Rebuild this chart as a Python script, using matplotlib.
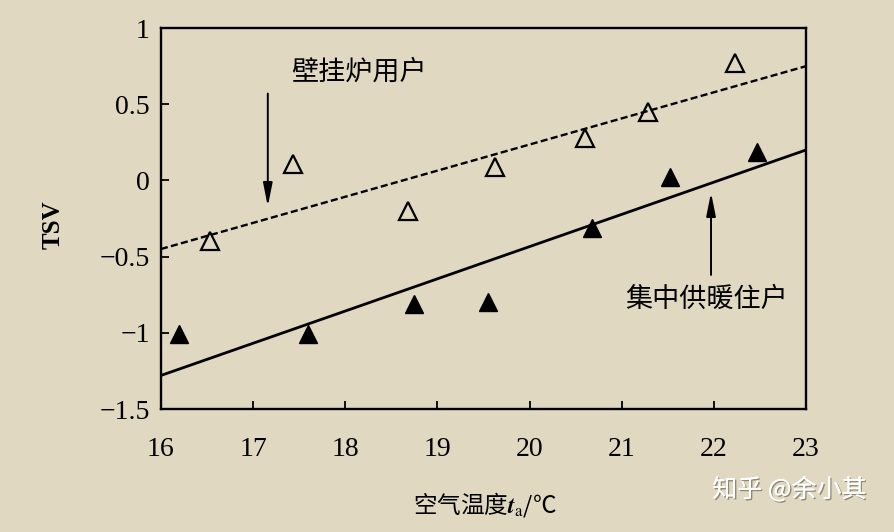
import matplotlib
matplotlib.use("Agg")
import matplotlib.pyplot as plt
import matplotlib.patheffects as pe

# data
t_open = [16.53, 17.43, 18.68, 19.63, 20.60, 21.29, 22.23]
tsv_open = [-0.40, 0.11, -0.20, 0.09, 0.28, 0.45, 0.77]
t_fill = [16.20, 17.60, 18.75, 19.55, 20.68, 21.52, 22.47]
tsv_fill = [-1.01, -1.01, -0.81, -0.80, -0.31, 0.02, 0.19]
fit_x = [16, 23]
fit_open = [-0.45, 0.75]
fit_fill = [-1.28, 0.20]
xticks = [16, 17, 18, 19, 20, 21, 22, 23]
yticks = [1, 0.5, 0, -0.5, -1, -1.5]

bg = '#e0d8c1'
plt.rcParams['mathtext.fontset'] = 'stix'
serif = ['Liberation Serif', 'DejaVu Serif']
cjk = ['Noto Sans CJK SC', 'DejaVu Sans']

fig = plt.figure(figsize=(8.94, 5.32), dpi=100, facecolor=bg)
ax = fig.add_axes([0.180, 0.2312, 0.7215, 0.716], facecolor=bg)

ax.plot(fit_x, fit_open, color='k', lw=1.7, ls=(0, (3, 1.4)))
ax.plot(fit_x, fit_fill, color='k', lw=2.0)
ax.plot(t_open, tsv_open, ls='none', marker='^', ms=13, mfc='none', mec='k', mew=1.6)
ax.plot(t_fill, tsv_fill, ls='none', marker='^', ms=13, mfc='k', mec='k')

ax.set_xlim(16, 23)
ax.set_ylim(-1.5, 1)
ax.set_xticks(xticks)
ax.set_yticks(yticks)
ax.set_xticklabels([str(v) for v in xticks], family=serif, fontsize=20)
ax.set_yticklabels(['1', '0.5', '0', '\u22120.5', '\u22121', '\u22121.5'], family=serif, fontsize=20)
ax.tick_params(axis='x', direction='in', length=6, width=1.3, pad=20)
ax.tick_params(axis='y', direction='in', length=6, width=1.3, pad=8)
for s in ax.spines.values():
    s.set_linewidth(1.7)

ax.set_ylabel('TSV', family=serif, fontsize=18, fontweight='bold')
ax.yaxis.set_label_coords(-0.149, 0.483)
ax.set_xlabel('空气温度$\\boldsymbol{t}_{\\mathrm{a}}$/℃', family=cjk, fontsize=17)
ax.xaxis.set_label_coords(0.502, -0.213)

arrow = dict(arrowstyle='-|>,head_width=0.28,head_length=1.4', color='k', lw=1.4,
             shrinkA=0, shrinkB=0)
ax.annotate('', xy=(17.16, -0.17), xytext=(17.16, 0.57), arrowprops=arrow)
ax.annotate('', xy=(21.97, -0.08), xytext=(21.97, -0.62), arrowprops=arrow)
ax.text(18.15, 0.71, '壁挂炉用户', family=cjk, fontsize=19.5, ha='center', va='center')
ax.text(21.92, -0.78, '集中供暖住户', family=cjk, fontsize=19.5, ha='center', va='center')

fig.text(0.883, 0.079, '知乎 @余小其', family=cjk, fontsize=18, color='white',
         ha='center', va='center',
         path_effects=[pe.withSimplePatchShadow(offset=(1, -1), shadow_rgbFace='#6e6858', alpha=0.7),
                       pe.Normal()])

fig.savefig('out.png', dpi=100, facecolor=bg)
